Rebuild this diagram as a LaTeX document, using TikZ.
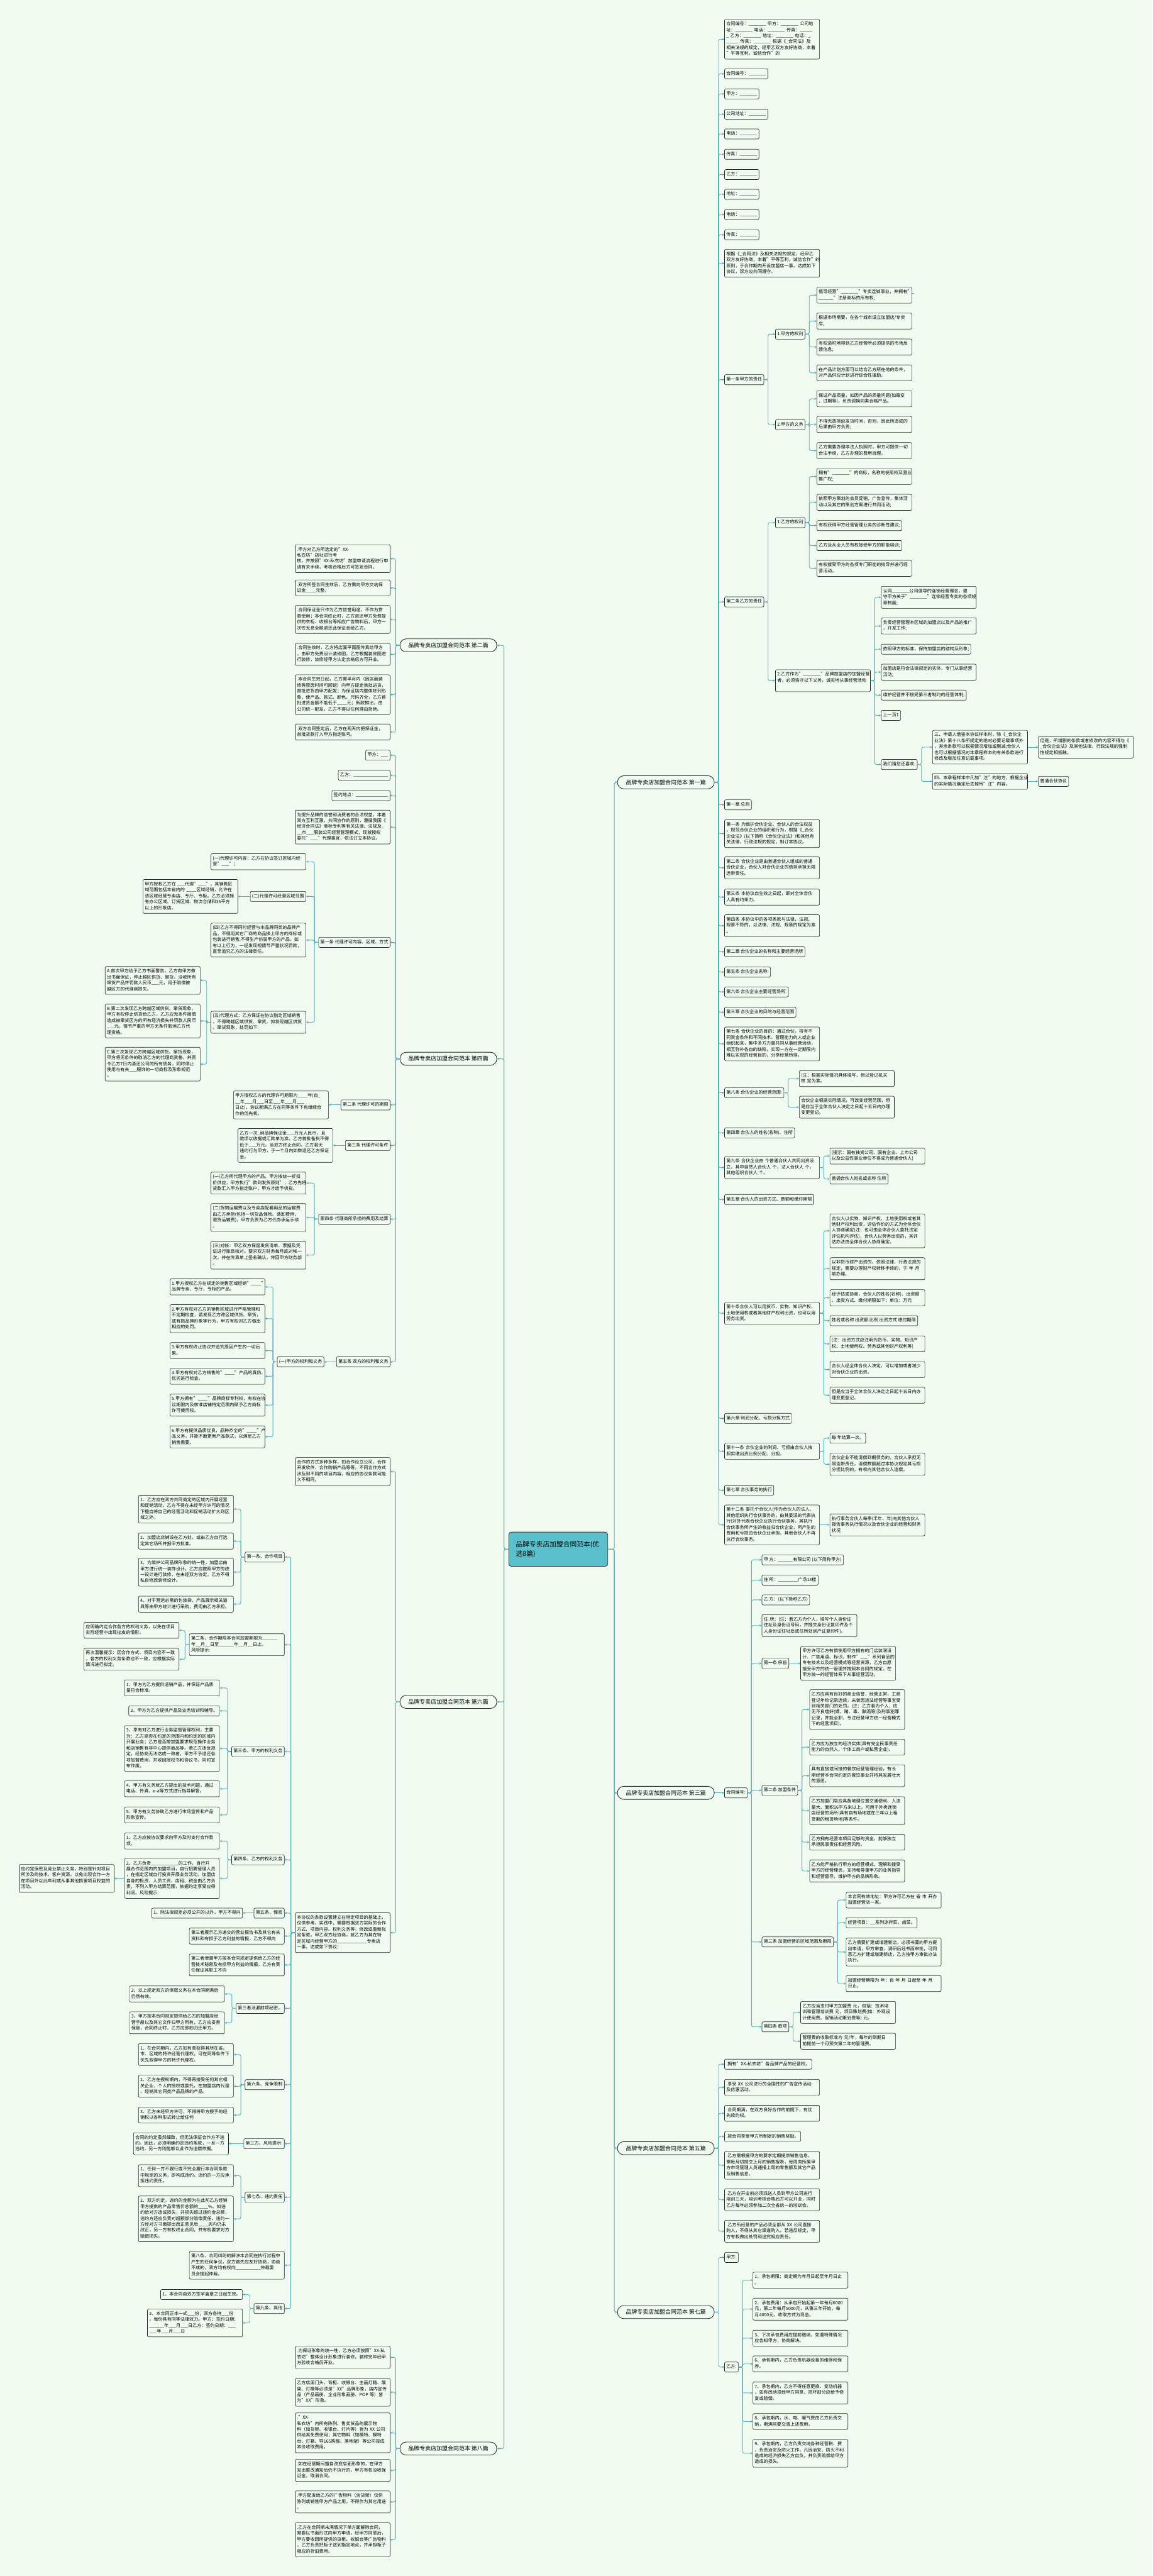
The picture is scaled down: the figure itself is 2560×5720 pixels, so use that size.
\documentclass[tikz,border=0pt]{standalone}
\usepackage{fontspec}
\setmainfont{Noto Sans CJK SC}
\usetikzlibrary{arrows.meta}

\definecolor{bgc}{RGB}{241,250,240}
\definecolor{linkc}{RGB}{86,176,188}
\definecolor{rootc}{RGB}{92,192,204}
\newcommand{\leaffont}{\fontsize{9.9}{13.2}\selectfont}
% links from a parent to its children, right and left hand
\newcommand{\linksR}[2]{\foreach \kid in {#2}{\draw[link] (#1.east) -- ++(9,0) |- (\kid.west);}}
\newcommand{\linksL}[2]{\foreach \kid in {#2}{\draw[link] (#1.west) -- ++(-9,0) |- (\kid.east);}}
\newcommand{\linkR}[2]{\draw[link] (#1.east) -- (#2.west);}
\newcommand{\linkL}[2]{\draw[link] (#1.west) -- (#2.east);}

\begin{document}
\catcode`\_=12
\begin{tikzpicture}[x=1pt, y=-1pt,
    box/.style={draw=black!85, line width=0.9pt, rounded corners=3pt, fill=bgc,
                font=\leaffont, align=left, inner xsep=4pt, inner ysep=4.6pt,
                execute at begin node=\strut, execute at end node=\strut},
    para/.style={box, text width=203pt},
    main/.style={draw=black!85, line width=1.2pt, rounded corners=14pt, fill=bgc,
                 font=\fontsize{12.5}{15}\selectfont, minimum height=29pt, minimum width=215pt},
    rootbox/.style={draw=black!80, line width=1.2pt, rounded corners=6pt, fill=rootc,
                    font=\fontsize{15}{21}\selectfont, text width=188pt, align=left,
                    minimum height=76pt, inner xsep=16pt},
    link/.style={draw=linkc, line width=1.3pt, rounded corners=4pt, -{Stealth[length=5pt,width=5pt]}}]

\fill[bgc] (0,0) rectangle (2560,5720);
\useasboundingbox (0,0) rectangle (2560,5720);

% centre and the eight parts
\node (root) at (1240, 3440) [rootbox] {品牌专卖店加盟合同范本(优\\选8篇)};
\begin{scope}[every node/.append style={anchor=west}]
    \node (r1) at (1371, 1737) [main] {品牌专卖店加盟合同范本 第一篇};
    \node (r3) at (1371, 3981) [main] {品牌专卖店加盟合同范本 第三篇};
    \node (r5) at (1371, 4770) [main] {品牌专卖店加盟合同范本 第五篇};
    \node (r7) at (1371, 5134) [main] {品牌专卖店加盟合同范本 第七篇};
\end{scope}
\begin{scope}[every node/.append style={anchor=east}]
    \node (l2) at (1104, 1433) [main] {品牌专卖店加盟合同范本 第二篇};
    \node (l4) at (1104, 2351) [main] {品牌专卖店加盟合同范本 第四篇};
    \node (l6) at (1104, 3779) [main] {品牌专卖店加盟合同范本 第六篇};
    \node (l8) at (1104, 5437) [main] {品牌专卖店加盟合同范本 第八篇};
\end{scope}

% right hand side
\begin{scope}[every node/.append style={anchor=west}]
    % part one
    \node (r1a) at (1609, 87) [para] {合同编号：_______ 甲方：_______ 公司地\\址：_______ 电话：_______ 传真：_____\\_ 乙方：_______ 地址：_______ 电话：_\\_____ 传真：_______ 根据《_合同法》及\\相关法规的规定，经甲乙双方友好协商，本着\\"平等互利，诚信合作"的};
    \node (r1b) at (1609, 164) [box] {合同编号：_______};
    \node (r1c) at (1609, 208.5) [box] {甲方：_______};
    \node (r1d) at (1609, 253.5) [box] {公司地址：_______};
    \node (r1e) at (1609, 297.5) [box] {电话：_______};
    \node (r1f) at (1609, 342.5) [box] {传真：_______};
    \node (r1g) at (1609, 387.5) [box] {乙方：_______};
    \node (r1h) at (1609, 431.5) [box] {地址：_______};
    \node (r1i) at (1609, 476.5) [box] {电话：_______};
    \node (r1j) at (1609, 521.5) [box] {传真：_______};
    \node (r1k) at (1609, 584.5) [para] {根据《_合同法》及相关法规的规定，经甲乙\\双方友好协商，本着"平等互利，诚信合作"的\\原则，于合作期内开设加盟店一事，达成如下\\协议，双方应共同遵守。};
    \node (r1l) at (1609, 843) [box] {第一条甲方的责任};
    \node (r1m) at (1609, 1336.5) [box] {第二条乙方的责任};
    \node (r1n) at (1609, 1787) [box] {第一章 总则};
    \node (r1o) at (1609, 1851) [para] {第一条 为维护合伙企业、合伙人的合法权益\\，规范合伙企业的组织和行为，根据《_合伙\\企业法》(以下简称《合伙企业法》)和其他有\\关法律、行政法规的规定，制订本协议。};
    \node (r1p) at (1609, 1927) [para] {第二条 合伙企业是由普通合伙人组成的普通\\合伙企业，合伙人对合伙企业的债务承担无限\\连带责任。};
    \node (r1q) at (1609, 1992) [para] {第三条 本协议自生效之日起，即对全体合伙\\人具有约束力。};
    \node (r1r) at (1609, 2055.5) [para] {第四条 本协议中的各项条款与法律、法规、\\规章不符的，以法律、法规、规章的规定为准\\。};
    \node (r1s) at (1609, 2113.5) [box] {第二章 合伙企业的名称和主要经营场所};
    \node (r1t) at (1609, 2158.5) [box] {第五条 合伙企业名称:};
    \node (r1u) at (1609, 2202.5) [box] {第六条 合伙企业主要经营场所:};
    \node (r1v) at (1609, 2247.5) [box] {第三章 合伙企业的目的与经营范围};
    \node (r1w) at (1609, 2318) [para] {第七条 合伙企业的目的：通过合伙，将有不\\同资金条件和不同技术、管理能力的人或企业\\组织起来，集中多方力量共同从事经营活动，\\相互弥补各自的缺陷，实现一方在一定期限内\\难以实现的经营目的，分享经营所得。};
    \node (r1x) at (1609, 2426.5) [box] {第八条 合伙企业的经营范围:};
    \node (r1y) at (1609, 2515.5) [box] {第四章 合伙人的姓名(名称)、住所};
    \node (r1z) at (1609, 2592.5) [para] {第九条 合伙企业由 个普通合伙人共同出资设\\立，其中自然人合伙人 个，法人合伙人 个，\\其他组织合伙人 个。};
    \node (r1aa) at (1609, 2663.5) [box] {第五章 合伙人的出资方式、数额和缴付期限};
    \node (r1ab) at (1609, 2916) [para] {第十条合伙人可以用货币、实物、知识产权、\\土地使用权或者其他财产权利出资，也可以用\\劳务出资。};
    \node (r1ac) at (1609, 3149.5) [box] {第六章 利润分配、亏损分担方式};
    \node (r1ad) at (1609, 3222.5) [para] {第十一条 合伙企业的利润、亏损由合伙人按\\照实缴出资比例分配、分担。};
    \node (r1ae) at (1609, 3309) [box] {第七章 合伙事务的执行};
    \node (r1af) at (1609, 3386) [para] {第十二条 委托个合伙人(作为合伙人的法人、\\其他组织执行合伙事务的，由其委派的代表执\\行)对外代表合伙企业执行合伙事务，其执行\\合伙事务所产生的收益归合伙企业，所产生的\\费用和亏损由合伙企业承担。其他合伙人不再\\执行合伙事务。};

    \node (r1l1) at (1722, 742) [box] {1.甲方的权利};
    \node (r1l2) at (1722, 943) [box] {2.甲方的义务};
    \node (r1l1a) at (1814, 655.5) [para] {倡导经营"_______"专卖连锁事业，并拥有"_\\______"注册商标的所有权;};
    \node (r1l1b) at (1814, 713) [para] {根据市场需要，在各个城市设立加盟店/专卖\\店;};
    \node (r1l1c) at (1814, 770.5) [para] {有权适时地得到乙方经营所必须提供的市场反\\馈信息;};
    \node (r1l1d) at (1814, 828) [para] {在产品计划方面可以结合乙方所在地的条件，\\对产品供应计划进行综合性援助。};
    \node (r1l2a) at (1814, 885.5) [para] {保证产品质量，如因产品的质量问题(如霉变\\，过期等)，负责调换同类合格产品。};
    \node (r1l2b) at (1814, 942.5) [para] {不得无故拖延发货时间，否则，因此所造成的\\后果由甲方负责;};
    \node (r1l2c) at (1814, 1000.5) [para] {乙方需要办理非法人执照时，甲方可提供一切\\合法手续，乙方办理的费用自理。};

    \node (r1m1) at (1722, 1160.5) [box] {1.乙方的权利};
    \node (r1m2) at (1722, 1511.5) [para] {2.乙方作为"_______"品牌加盟店的加盟经营\\者，必须恪守以下义务，诚实地从事经营活动\\:};
    \node (r1m1a) at (1814, 1058) [para] {拥有"_______"的商标，名称的使用权及营业\\推广权;};
    \node (r1m1b) at (1814, 1115.5) [para] {依照甲方策划的会员促销，广告宣传，集体活\\动以及其它的策划方案进行共同活动;};
    \node (r1m1c) at (1814, 1167) [box] {有权获得甲方经营管理业务的诊断性建议;};
    \node (r1m1d) at (1814, 1211.5) [box] {乙方及从业人员有权接受甲方的职能培训;};
    \node (r1m1e) at (1814, 1262) [para] {有权接受甲方的各项专门职能的指导并进行经\\营活动。};
    \node (r1m2a) at (1957, 1326.5) [para] {认同_______公司倡导的连锁经营理念，遵\\守甲方关于"_______"连锁经营专卖的各项规\\章制度;};
    \node (r1m2b) at (1957, 1390) [para] {负责经营管理本区域的加盟店以及产品的推广\\，开发工作;};
    \node (r1m2c) at (1957, 1441.5) [box] {依照甲方的标准，保持加盟店的结构及形象;};
    \node (r1m2d) at (1957, 1492.5) [para] {加盟店是符合法律规定的实体，专门从事经营\\活动;};
    \node (r1m2e) at (1957, 1543.5) [box] {维护经营并不接受第三者制约的经营体制;};
    \node (r1m2f) at (1957, 1588.5) [box] {上一页1};
    \node (r1m2g) at (1957, 1697.5) [box] {我们猜您还喜欢:};
    \node (r1m2g1) at (2071, 1659) [para] {三、申请人借鉴本协议样本时，除《_合伙企\\业法》第十八条所规定的绝对必要记载事项外\\，其余条款可以根据情况增加或删减;合伙人\\也可以根据情况对本章程样本的有关条款进行\\修改及增加任意记载事项。};
    \node (r1m2g2) at (2071, 1735) [para] {四、本章程样本中凡加"注"的地方，根据企业\\的实际情况确定后去掉所"注"内容。};
    \node (r1m2g1a) at (2306, 1659) [para] {但是，所增删的条款或者修改的内容不得与《\\_合伙企业法》及其他法律、行政法规的强制\\性规定相抵触。};
    \node (r1m2g2a) at (2306, 1735) [box] {普通合伙协议};

    \node (r1xa) at (1775, 2395) [para] {(注：根据实际情况具体填写，但以登记机关\\核 定为准。};
    \node (r1xb) at (1775, 2458.5) [para] {合伙企业根据实际情况，可改变经营范围，但\\是应当于全体合伙人决定之日起十五日内办理\\变更登记。};
    \node (r1za) at (1843, 2567) [para] {(提示：国有独资公司、国有企业、上市公司\\以及公益性事业单位不得成为普通合伙人)};
    \node (r1zb) at (1843, 2618) [box] {普通合伙人姓名或名称 住所};
    \node (r1aba) at (1843, 2733) [para] {合伙人以实物、知识产权、土地使用权或者其\\他财产权利出资，评估作价的方式为全体合伙\\人协商确定(注：也可由全体合伙人委托法定\\评估机构评估)，合伙人以劳务出资的，其评\\估办法由全体合伙人协商确定。};
    \node (r1abb) at (1843, 2817) [para] {以非货币财产出资的，依照法律、行政法规的\\规定，需要办理财产权转移手续的，于 年 月\\前办理。};
    \node (r1abc) at (1843, 2881.5) [para] {经评估或协商，合伙人的姓名(名称)、出资额\\、出资方式、缴付期限如下：单位：万元};
    \node (r1abd) at (1843, 2932.5) [box] {姓名或名称 出资额 比例 出资方式 缴付期限};
    \node (r1abe) at (1843, 2984) [para] {(注：出资方式应注明为货币、实物、知识产\\权、土地使用权、劳务或其他财产权利等)};
    \node (r1abf) at (1843, 3041) [para] {合伙人经全体合伙人决定，可以增加或者减少\\对合伙企业的出资。};
    \node (r1abg) at (1843, 3098) [para] {但是应当于全体合伙人决定之日起十五日内办\\理变更登记。};
    \node (r1ada) at (1843, 3193.5) [box] {每 年结算一次。};
    \node (r1adb) at (1843, 3251.5) [para] {合伙企业不能清偿到期债务的，合伙人承担无\\限连带责任，清偿数额超过本协议规定其亏损\\分担比例的，有权向其他合伙人追偿。};
    \node (r1afa) at (1843, 3386) [para] {执行事务合伙人每季(半年、年)向其他合伙人\\报告事务执行情况以及合伙企业的经营和财务\\状况};

    % part three
    \node (r3a) at (1609, 3981) [box] {合同编号:};
    \node (r3a1) at (1692, 3463.5) [box] {甲 方：______有限公司 (以下简称甲方)};
    \node (r3a2) at (1692, 3508.5) [box] {住 所：________广场13楼};
    \node (r3a3) at (1692, 3552.5) [box] {乙 方：(以下简称乙方)};
    \node (r3a4) at (1692, 3609.5) [para] {住 所：(注：若乙方为个人，填写个人身份证\\住址及身份证号码，并提交身份证复印件及个\\人身份证住址处或住所处房产证复印件)。};
    \node (r3a5) at (1692, 3693.5) [box] {第一条 宗旨};
    \node (r3a6) at (1692, 3975.5) [box] {第二条 加盟条件};
    \node (r3a7) at (1692, 4312) [box] {第三条 加盟经营的区域范围及期限};
    \node (r3a8) at (1692, 4500.5) [box] {第四条 款项};
    \node (r3a5a) at (1778, 3693.5) [para] {甲方许可乙方有偿使用甲方拥有的门店装潢设\\计、广告用语、标识、制作"___"系列食品的\\专有技术以及经营模式等经营资源，乙方自愿\\接受甲方的统一管理并按照本合同的规定，在\\甲方统一的经营体系下从事经营活动。};
    \node (r3a6a) at (1798, 3796) [para] {乙方应具有良好的商业信誉，经营正常，工商\\登记年检记录连续，未曾因违法经营等事宜受\\到相关部门的处罚。(注：乙方若为个人，应\\无不良嗜好(嫖、赌、毒、酗酒等)及刑事犯罪\\记录，并能全职、专注经营甲方统一经营模式\\下的经营项目)。};
    \node (r3a6b) at (1798, 3879.5) [para] {乙方应为独立的经济实体(具有完全民事责任\\能力的自然人、个体工商户或私营企业)。};
    \node (r3a6c) at (1798, 3943) [para] {具有直接或间接的餐饮经营管理经验，有长\\期经营本合同约定的餐饮事业并将其发展壮大\\的意愿。};
    \node (r3a6d) at (1798, 4020.5) [para] {乙方加盟门店应具备地理位置交通便利、人流\\量大、面积16平方米以上，可用于外卖连锁\\店经营的场所(具有自有场地或在三年以上租\\赁期的租赁场地)等条件。};
    \node (r3a6e) at (1798, 4090.5) [para] {乙方拥有经营本项目足够的资金，能够独立\\承担民事责任和经营风险。};
    \node (r3a6f) at (1798, 4154.5) [para] {乙方能严格执行甲方的经营模式，理解和接受\\甲方的经营理念，支持和尊重甲方的业务指导\\和经营督导，维护甲方的品牌形象。};
    \node (r3a7a) at (1879, 4219) [para] {本合同有效地址：甲方许可乙方在 省 市 开办\\加盟经营店一家。};
    \node (r3a7b) at (1879, 4269.5) [box] {经营项目：__系列凉拌菜、卤菜。};
    \node (r3a7c) at (1879, 4334.5) [para] {乙方需要扩建或增建新店，必须书面向甲方提\\出申请，甲方审查、调研后经书面审批，可同\\意乙方扩建或增建新店，乙方按甲方审批办法\\执行。};
    \node (r3a7d) at (1879, 4404.5) [para] {加盟经营期限为 年：自 年 月 日起至 年 月\\日止。};
    \node (r3a8a) at (1778, 4468.5) [para] {乙方应当支付甲方加盟费 元，包括：技术培\\训和管理培训费 元，项目策划费(如：外观设\\计使用费、促销活动策划费等) 元。};
    \node (r3a8b) at (1778, 4532.5) [para] {管理费的收取标准为 元/年，每年的到期日\\前提前一个月预交第二年的管理费。};

    % part five
    \node (r5a) at (1609, 4583.5) [box] {.拥有"XX-私衣坊"各品牌产品的经营权。};
    \node (r5b) at (1609, 4635) [para] {.享受 XX 公司进行的全国性的广告宣传活动\\及优惠活动。};
    \node (r5c) at (1609, 4692.5) [para] {.合同期满，在双方良好合作的前提下，有优\\先续约权。};
    \node (r5d) at (1609, 4744) [box] {.按合同享受甲方所制定的销售奖励。};
    \node (r5e) at (1609, 4808) [para] {.乙方需根据甲方的要求定期提供销售信息，\\需每月初提交上月的销售报表，每周向所属甲\\方市场管理人员通报上周的零售额及其它产品\\及销售信息。};
    \node (r5f) at (1609, 4884.5) [para] {.乙方在开业前必须派送人员到甲方公司进行\\培训三天，培训考核合格后方可以开业，同时\\乙方每年必须参加二次全省统一的培训会。};
    \node (r5g) at (1609, 4954.5) [para] {.乙方所经营的产品必须全部从 XX 公司直接\\购入，不得从其它渠道购入，若违反规定，甲\\方有权做出处罚和追究相应责任。};

    % part seven
    \node (r7a) at (1609, 5012.5) [box] {甲方:};
    \node (r7b) at (1609, 5256) [box] {乙方:};
    \node (r7b1) at (1672, 5063) [para] {1、承包期限：商定期为年月日起至年月日止\\。};
    \node (r7b2) at (1672, 5127.5) [para] {2、承包费用：从承包开始起第一年每月6000\\元，第二年每月5000元，从第三年开始，每\\月4000元。收取方式为现金。};
    \node (r7b3) at (1672, 5192) [para] {3、下次承包费用应提前缴纳，如遇特殊情况\\应告知甲方，协商解决。};
    \node (r7b4) at (1672, 5249) [para] {6、承包期内，乙方负责机器设备的维修和保\\养。};
    \node (r7b5) at (1672, 5313.5) [para] {7、承包期内，乙方不得任意更换、变动机器\\，如有改动须经甲方同意，损坏部分应给予修\\复或赔偿。};
    \node (r7b6) at (1672, 5377) [para] {8、承包期内，水、电、暖气费由乙方负责交\\纳，期满前要交清上述费用。};
    \node (r7b7) at (1672, 5447.5) [para] {9、承包期内，乙方负责交纳各种经营税、费\\，负责治安及防火工作，凡因治安、防火不利\\造成的经济损失乙方自负，并负责赔偿给甲方\\造成的损失。};
\end{scope}

% left hand side
\begin{scope}[every node/.append style={anchor=east}]
    % part two
    \node (l2a) at (867, 1240.5) [para] {.甲方对乙方所选定的"XX-私衣坊"店址进行考\\核，并按照"XX-私衣坊"加盟申请流程进行申\\请有关手续，考核合格后方可签定合同。};
    \node (l2b) at (867, 1305.5) [para] {.双方所签合同生效后，乙方需向甲方交纳保\\证金____元整。};
    \node (l2c) at (867, 1375.5) [para] {.合同保证金只作为乙方信誉用途，不作为贷\\款使用；本合同终止时，乙方退还甲方免费提\\供的衣柜、收银台等相应广告物料后，甲方一\\次性无息全额退还此保证金给乙方。};
    \node (l2d) at (867, 1453) [para] {.合同生效时，乙方将店面平面图传真给甲方\\，由甲方免费设计装修图，乙方根据装修图进\\行装修，装修经甲方认定合格后方可开业。};
    \node (l2e) at (867, 1542.5) [para] {.本合同生效日起，乙方需半月内（因店面装\\修等原因时间可顺延）向甲方提走首批进货，\\首批进货由甲方配发；为保证店内整体陈列形\\象，使产品、款式、颜色、尺码齐全，乙方首\\批进货金额不能低于____元；新款推出，由\\公司统一配发，乙方不得以任何理由拒绝。};
    \node (l2f) at (867, 1625.5) [para] {.双方合同签定后，乙方在两天内把保证金，\\首批货款打入甲方指定账号。};

    % part four
    \node (l4a) at (867, 1677) [box] {甲方：___};
    \node (l4b) at (867, 1721.5) [box] {乙方：______________};
    \node (l4c) at (867, 1766.5) [box] {签约地点：_____________};
    \node (l4d) at (867, 1836.5) [para] {为提升品牌的信誉和消费者的合法权益，本着\\双方互利互惠、共同协作的原则，遵循我国《\\经济合同法》商标专利等有关法律、法规及_\\__市___服装公司经营管理模式，现就授权\\委托"___"代理事宜，依法订立本协议。};
    \node (l4e) at (867, 2092.5) [box] {第一条 代理许可内容、区域、方式};
    \node (l4f) at (867, 2453.5) [box] {第二条 代理许可的期限};
    \node (l4g) at (867, 2543.5) [box] {第三条 代理许可条件};
    \node (l4h) at (867, 2707) [box] {第四条 代理商所承担的费用及结算};
    \node (l4i) at (867, 3024) [box] {第五条 双方的权利和义务};

    \node (l4e1) at (680, 1913.5) [para] {(一)代理许可内容：乙方在协议签订区域内经\\营"___"；};
    \node (l4e2) at (680, 1990.5) [box] {(二)代理许可经营区域范围};
    \node (l4e3) at (680, 2087.5) [para] {(四)乙方不得同时经营与本品牌同类的品牌产\\品，不得用其它厂商的商品换上甲方的商标或\\包装进行销售;不得生产仿冒甲方的产品。如\\有以上行为，一经发现视情节严重状况罚款，\\直至追究乙方的法律责任。};
    \node (l4e4) at (680, 2270) [para] {(五)代理方式：乙方保证在协议指定区域销售\\，不得跨越区域供货、窜货，如发现越区供货\\、窜货现象，处罚如下:};
    \node (l4e2a) at (529, 1990.5) [para] {甲方授权乙方在 ___代理"___"，其销售区\\域范围包括本省内的 ____区域经销，允许在\\该区域经营专卖店、专厅、专柜。乙方必须拥\\有办公区域、订货区域、物流仓储和35平方\\以上的形象店。};
    \node (l4e4a) at (445, 2177) [para] {A.首次甲方给予乙方书面警告，乙方向甲方做\\出书面保证，停止越区供货、窜货，没收所有\\窜货产品并罚款人民币___元，用于赔偿被\\越区方的代理商损失。};
    \node (l4e4b) at (445, 2267) [para] {B.第二次发现乙方跨越区域供货、窜货现象，\\甲方有权停止供货给乙方，乙方应无条件赔偿\\造成被窜货区方的所有经济损失并罚款人民币\\___元，情节严重的甲方无条件取消乙方代\\理资格。};
    \node (l4e4c) at (445, 2363) [para] {C.第三次发现乙方跨越区域供货、窜货现象，\\甲方将无条件的取消乙方的代理商资格，并责\\令乙方7日内清还公司的所有债务，同时停止\\使用与有关___服饰的一切商标及形象规范\\。};
    \node (l4fa) at (730, 2453.5) [para] {甲方授权乙方的代理许可期限为____年(自_\\__年___月___日至___年___月___\\日止)。协议期满乙方在同等条件下有继续合\\作的优先权。};
    \node (l4ga) at (740, 2543.5) [para] {乙方一次_纳品牌保证金___万元人民币，且\\款项以收据或汇款单为准。乙方首批备货不得\\低于___万元。当双方终止合同，乙方若无\\违约行为甲方，于一个月内如数退还乙方保证\\金。};
    \node (l4h1) at (680, 2627) [para] {(一)乙方所代理甲方的产品，甲方按统一折扣\\价供应，甲方执行"款到发货原则"，乙方先将\\货款汇入甲方指定账户，甲方才给予供货。};
    \node (l4h2) at (680, 2703.5) [para] {(二)货物运输费以及专卖店配套用品的运输费\\由乙方承担(包括一切货品保险、装卸费用、\\退货运输费)，甲方负责为乙方代办承运手续\\。};
    \node (l4h3) at (680, 2787) [para] {(三)对帐：甲乙双方保留发货清单、票据及凭\\证进行账目核对。要求双方财务每月底对帐一\\次，并在传真单上签名确认，传回甲方财务部\\。};
    \node (l4ia) at (720, 3024) [box] {(一)甲方的权利和义务};
    \node (l4ia1) at (589, 2857.5) [para] {1.甲方授权乙方在规定的销售区域经销"____"\\品牌专卖、专厅、专柜的产品。};
    \node (l4ia2) at (589, 2928) [para] {2.甲方有权对乙方的销售区域进行严格管理和\\不定期检查，若发现乙方跨区域供货、窜货，\\或有损品牌形象等行为，甲方有权对乙方做出\\相应的处罚。};
    \node (l4ia3) at (589, 2999) [para] {3.甲方有权终止协议并追究原因产生的一切后\\果。};
    \node (l4ia4) at (589, 3056) [para] {4.甲方有权对乙方销售的"____"产品的真伪、\\优劣进行检查。};
    \node (l4ia5) at (589, 3120) [para] {5.甲方拥有"____"品牌商标专利权，有权在协\\议期限内及核准店铺特定范围内赋予乙方商标\\许可使用权。};
    \node (l4ia6) at (589, 3190.5) [para] {6.甲方有提供品质优良，品种齐全的"____"产\\品义务，并能不断更新产品款式，以满足乙方\\销售需要。};

    % part six
    \node (l6a) at (867, 3267.5) [para] {合作的方式多种多样，如合作设立公司、合作\\开发软件、合作购销产品等等，不同合作方式\\涉及到不同的项目内容，相应的协议条款可能\\大不相同。};
    \node (l6b) at (867, 4291.5) [para] {本协议的条款设置建立在特定项目的基础上，\\仅供参考。实践中，需要根据双方实际的合作\\方式、项目内容、权利义务等，修改或重新拟\\定条款。甲乙双方经协商，就乙方为其在特\\定区域内经营甲方的____________专卖店\\一事，达成如下协议：};
    \node (l6p1) at (632, 3457.5) [box] {第一条、合作项目};
    \node (l6p2) at (632, 3652) [para] {第二条、合作期限本合同加盟期限为______\\年__月__日至______年__月__日止。\\风险提示:};
    \node (l6p3) at (632, 3889) [box] {第三条、甲方的权利义务};
    \node (l6p4) at (632, 4129.5) [box] {第四条、乙方的权利义务};
    \node (l6p5) at (632, 4248) [box] {第五条、保密};
    \node (l6p6) at (632, 4299) [para] {第三者展示乙方递交的营业报告书及其它有关\\资料和有损于乙方利益的情报，乙方不得向};
    \node (l6p7) at (632, 4363) [para] {第三者泄漏甲方按本合同规定提供给乙方的经\\营技术秘密及有损甲方利益的情报，乙方有责\\任保证其职工不向};
    \node (l6p8) at (632, 4459.5) [box] {第三者泄漏前项秘密。};
    \node (l6p9) at (632, 4629) [box] {第六条、竞争限制};
    \node (l6p10) at (632, 4760) [box] {第三方、风险提示:};
    \node (l6p11) at (632, 4879) [box] {第七条、违约责任};
    \node (l6p12) at (632, 5030) [para] {第八条、合同纠纷的解决本合同在执行过程中\\产生的任何争议，双方首先应友好协商，协商\\不成的，双方均有权向__________仲裁委\\员会提起仲裁。};
    \node (l6p13) at (632, 5126) [box] {第九条、其他};

    \node (l6p1a) at (519, 3351) [para] {1、乙方应在双方共同商定的区域内开展经营\\和促销活动。乙方不得在未经甲方许可的情况\\下擅自将自己的经营活动和促销活动扩大到区\\域之外。};
    \node (l6p1b) at (519, 3422) [para] {2、加盟店店铺设在乙方处，或由乙方自行选\\定其它场所并报甲方批准。};
    \node (l6p1c) at (519, 3491) [para] {3、为维护公司品牌形象的统一性，加盟店由\\甲方进行统一装饰设计，乙方应按照甲方的统\\一设计进行装修，在未经双方协定，乙方不得\\私自修改装修设计。};
    \node (l6p1d) at (519, 3562) [para] {4、对于营运必需的包装袋、产品展示相关道\\具等由甲方统计进行采购，费用由乙方承担。};
    \node (l6p2a) at (398, 3620) [para] {应明确约定合作各方的权利义务，以免在项目\\实际经营中出现扯皮的情形。};
    \node (l6p2b) at (398, 3684.5) [para] {再次温馨提示：因合作方式、项目内容不一致\\，各方的权利义务条款也不一致，应根据实际\\情况进行拟定。};
    \node (l6p3a) at (488, 3748) [para] {1、甲方为乙方提供适销产品，并保证产品质\\量符合标准。};
    \node (l6p3b) at (488, 3799) [box] {2、甲方为乙方提供产品及业务培训和辅导。};
    \node (l6p3c) at (488, 3882.5) [para] {3、享有对乙方进行业务监督管理权利，主要\\为：乙方是否在约定的范围内和约定的区域内\\开展业务；乙方是否按加盟要求规范操作业务\\和店销售有非中心提供商品等。若乙方违反规\\定，经协商无法达成一致者，甲方不予退还各\\项加盟费用，并收回授权书和协议书，同时宣\\布作废。};
    \node (l6p3d) at (488, 3972) [para] {4、甲方有义务就乙方提出的技术问题，通过\\电话、传真、e-a等方式进行指导解答。};
    \node (l6p3e) at (488, 4030) [para] {5、甲方有义务协助乙方进行市场宣传和产品\\形象宣传。};
    \node (l6p4a) at (488, 4088) [para] {1、乙方应按协议要求向甲方及时支付合作款\\项。};
    \node (l6p4b) at (488, 4171) [para] {2、乙方负责___________的工作，自行开\\展合作范围内的加盟项目，自行招聘管理人员\\，在指定区域自行投资开展业务活动，加盟店\\自身的投资、人员工资、店租、税金由乙方负\\责，不列入甲方结算范围，依据约定享受应得\\利润。风险提示:};
    \node (l6p4b1) at (254, 4171) [para] {应约定保密及竞业禁止义务，特别是针对项目\\所涉及的技术、客户资源，以免出现合作一方\\在项目外以此牟利或从事其他损害项目权益的\\活动。};
    \node (l6p5a) at (539, 4248) [box] {1、除法律规定必须公开的以外，甲方不得向};
    \node (l6p8a) at (499, 4427.5) [para] {2、以上规定双方的保密义务在本合同期满后\\仍然有效。};
    \node (l6p8b) at (499, 4491.5) [para] {3、甲方按本合同规定提供给乙方的加盟店经\\营手册以及其它文件归甲方所有，乙方应妥善\\保管，合同终止时，乙方应即刻归还甲方。};
    \node (l6p9a) at (519, 4562) [para] {1、在合同期内，乙方如有意获得其所在省、\\市、区域的特许经营代理权，可在同等条件下\\优先取得甲方的特许代理权。};
    \node (l6p9b) at (519, 4632.5) [para] {2、乙方在授权期内，不得再接受任何其它相\\关企业、个人的授权或委托，在加盟店内代理\\、经销其它同类产品品牌的产品。};
    \node (l6p9c) at (519, 4696.5) [para] {3、乙方未经甲方许可，不得将甲方授予的经\\销权以各种形式转让给任何};
    \node (l6p10a) at (508, 4760) [para] {合同的约定虽然细致，但无法保证合作方不违\\约。因此，必须明确约定违约条款，一旦一方\\违约，另一方则能够以此作为追偿依据。};
    \node (l6p11a) at (519, 4831) [para] {1、任何一方不履行或不完全履行本合同条款\\中规定的义务，即构成违约，违约的一方应承\\担违约责任。};
    \node (l6p11b) at (519, 4927) [para] {2、双方约定，违约的金额为在此前乙方经销\\甲方提供的产品零售价总额的____\%。如违\\约给对方造成损失，并损失超过违约金总额，\\违约方还应负责对超额部分赔偿责任。违约一\\方经对方书面提出改正意见后____天内仍未\\改正，另一方有权终止合同，并有权要求对方\\赔偿损失。};
    \node (l6p13a) at (539, 5095) [box] {1、本合同自双方签字盖章之日起生效。};
    \node (l6p13b) at (539, 5158) [para] {2、本合同正本一式___份，双方各持___份\\，每份具有同等法律效力。甲方：签约日期：\\______年___月___日乙方：签约日期：___\\___年___月___日};

    % part eight
    \node (l8a) at (867, 5234.5) [para] {.为保证形象的统一性，乙方必须按照"XX-私\\衣坊"整体设计形象进行装修，装修完毕经甲\\方验收合格后开业。};
    \node (l8b) at (867, 5312) [para] {乙方店面门头、背柜、收银台、主画灯箱、展\\架、灯模等必须是"XX"品牌形象，店内宣传\\品（产品画册、企业形象画册、POP 等）皆\\为"XX"形象。};
    \node (l8c) at (867, 5402) [para] {."XX-私衣坊"内所有陈列、售卖货品的展示物\\料（如货柜、收银台、灯片等）皆为 XX 公司\\供给其免费使用；其它物料（如模特、模特\\台、灯箱、导165购服、落地架）等公司按成\\本价收取费用。};
    \node (l8d) at (867, 5485.5) [para] {.如在经营期间擅自改变店面形象的，在甲方\\发出整改通知后仍不执行的，甲方有权没收保\\证金，取消合同。};
    \node (l8e) at (867, 5555.5) [para] {.甲方配发给乙方的广告物料（含货架）仅供\\陈列或销售甲方产品之用，不得作为其它用途\\。};
    \node (l8f) at (867, 5639.5) [para] {.乙方在合同期未满情况下单方面解除合同，\\需要以书面形式向甲方申请，经甲方同意后，\\甲方要收回所提供的货柜、收银台等广告物料\\，乙方负责把柜子送到指定地点，并承担柜子\\相应的折旧费用。};
\end{scope}

% connectors
\foreach \kid in {r1,r3,r5,r7} \draw[link] (root.east) -- ++(14,0) |- (\kid.west);
\foreach \kid in {l2,l4,l6,l8} \draw[link] (root.west) -- ++(-10,0) |- (\kid.east);

\linksR{r1}{r1a,r1b,r1c,r1d,r1e,r1f,r1g,r1h,r1i,r1j,r1k,r1l,r1m,r1n,r1o,r1p,r1q,r1r,r1s,r1t,r1u,r1v,r1w,r1x,r1y,r1z,r1aa,r1ab,r1ac,r1ad,r1ae,r1af}
\linksR{r1l}{r1l1,r1l2}
\linksR{r1l1}{r1l1a,r1l1b,r1l1c,r1l1d}
\linksR{r1l2}{r1l2a,r1l2b,r1l2c}
\linksR{r1m}{r1m1,r1m2}
\linksR{r1m1}{r1m1a,r1m1b,r1m1c,r1m1d,r1m1e}
\linksR{r1m2}{r1m2a,r1m2b,r1m2c,r1m2d,r1m2e,r1m2f,r1m2g}
\linksR{r1m2g}{r1m2g1,r1m2g2}
\linkR{r1m2g1}{r1m2g1a}
\linkR{r1m2g2}{r1m2g2a}
\linksR{r1x}{r1xa,r1xb}
\linksR{r1z}{r1za,r1zb}
\linksR{r1ab}{r1aba,r1abb,r1abc,r1abd,r1abe,r1abf,r1abg}
\linksR{r1ad}{r1ada,r1adb}
\linkR{r1af}{r1afa}

\linkR{r3}{r3a}
\linksR{r3a}{r3a1,r3a2,r3a3,r3a4,r3a5,r3a6,r3a7,r3a8}
\linkR{r3a5}{r3a5a}
\linksR{r3a6}{r3a6a,r3a6b,r3a6c,r3a6d,r3a6e,r3a6f}
\linksR{r3a7}{r3a7a,r3a7b,r3a7c,r3a7d}
\linksR{r3a8}{r3a8a,r3a8b}

\linksR{r5}{r5a,r5b,r5c,r5d,r5e,r5f,r5g}
\linksR{r7}{r7a,r7b}
\linksR{r7b}{r7b1,r7b2,r7b3,r7b4,r7b5,r7b6,r7b7}

\linksL{l2}{l2a,l2b,l2c,l2d,l2e,l2f}
\linksL{l4}{l4a,l4b,l4c,l4d,l4e,l4f,l4g,l4h,l4i}
\linksL{l4e}{l4e1,l4e2,l4e3,l4e4}
\linkL{l4e2}{l4e2a}
\linksL{l4e4}{l4e4a,l4e4b,l4e4c}
\linkL{l4f}{l4fa}
\linkL{l4g}{l4ga}
\linksL{l4h}{l4h1,l4h2,l4h3}
\linkL{l4i}{l4ia}
\linksL{l4ia}{l4ia1,l4ia2,l4ia3,l4ia4,l4ia5,l4ia6}

\linksL{l6}{l6a,l6b}
\linksL{l6b}{l6p1,l6p2,l6p3,l6p4,l6p5,l6p6,l6p7,l6p8,l6p9,l6p10,l6p11,l6p12,l6p13}
\linksL{l6p1}{l6p1a,l6p1b,l6p1c,l6p1d}
\linksL{l6p2}{l6p2a,l6p2b}
\linksL{l6p3}{l6p3a,l6p3b,l6p3c,l6p3d,l6p3e}
\linksL{l6p4}{l6p4a,l6p4b}
\linkL{l6p4b}{l6p4b1}
\linkL{l6p5}{l6p5a}
\linksL{l6p8}{l6p8a,l6p8b}
\linksL{l6p9}{l6p9a,l6p9b,l6p9c}
\linkL{l6p10}{l6p10a}
\linksL{l6p11}{l6p11a,l6p11b}
\linksL{l6p13}{l6p13a,l6p13b}

\linksL{l8}{l8a,l8b,l8c,l8d,l8e,l8f}
\end{tikzpicture}
\end{document}
